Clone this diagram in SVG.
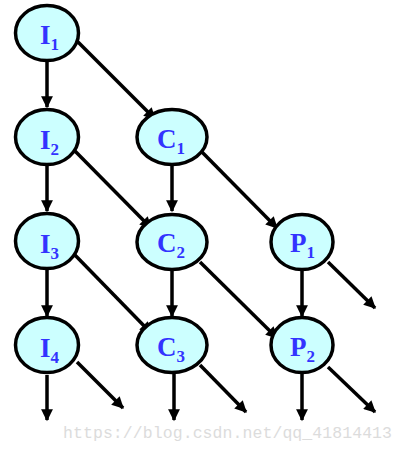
<svg xmlns="http://www.w3.org/2000/svg" width="404" height="451" viewBox="0 0 404 451">
<style>
.n ellipse{fill:#ccffff;stroke:#000;stroke-width:3.5}
.n text{font-family:"Liberation Serif",serif;font-weight:bold;fill:#3333ff;font-size:27px}
.n tspan{font-size:17px}
.c line{stroke:#000;stroke-width:3.5}
.wm{font-family:"Liberation Mono",monospace;font-size:16.5px;fill:#dcdcdc}
</style>
<defs>
<marker id="ah" viewBox="0 0 10 10" refX="9" refY="5" markerWidth="4" markerHeight="3.4" orient="auto" markerUnits="strokeWidth">
<path d="M0,0 L10,5 L0,10 Z" fill="#000"/>
</marker>
</defs>
<g class="c">
<line x1="47" y1="62" x2="47" y2="107" marker-end="url(#ah)"/>
<line x1="47" y1="166" x2="47" y2="211" marker-end="url(#ah)"/>
<line x1="47" y1="270" x2="47" y2="316" marker-end="url(#ah)"/>
<line x1="47" y1="375" x2="47" y2="420" marker-end="url(#ah)"/>
<line x1="172" y1="166" x2="172" y2="211" marker-end="url(#ah)"/>
<line x1="172" y1="271" x2="172" y2="316" marker-end="url(#ah)"/>
<line x1="174" y1="374" x2="174" y2="420" marker-end="url(#ah)"/>
<line x1="302" y1="271" x2="302" y2="316" marker-end="url(#ah)"/>
<line x1="302" y1="374" x2="302" y2="420" marker-end="url(#ah)"/>
<line x1="77" y1="41" x2="155" y2="119" marker-end="url(#ah)"/>
<line x1="72" y1="148" x2="151" y2="228" marker-end="url(#ah)"/>
<line x1="72" y1="252" x2="151" y2="333" marker-end="url(#ah)"/>
<line x1="77" y1="362" x2="123" y2="408" marker-end="url(#ah)"/>
<line x1="200" y1="150" x2="277" y2="228" marker-end="url(#ah)"/>
<line x1="200" y1="262" x2="277" y2="338" marker-end="url(#ah)"/>
<line x1="200" y1="365" x2="246" y2="412" marker-end="url(#ah)"/>
<line x1="328" y1="262" x2="375" y2="308" marker-end="url(#ah)"/>
<line x1="328" y1="367" x2="375" y2="412" marker-end="url(#ah)"/>
</g>
<g id="I1" class="n"><ellipse cx="47" cy="33" rx="31.5" ry="27.5"/><text x="40" y="44">I<tspan dy="6">1</tspan></text></g>
<g id="I2" class="n"><ellipse cx="47" cy="137" rx="31.5" ry="27.5"/><text x="40" y="149">I<tspan dy="6">2</tspan></text></g>
<g id="I3" class="n"><ellipse cx="47" cy="241" rx="31.5" ry="27.5"/><text x="40" y="253">I<tspan dy="6">3</tspan></text></g>
<g id="I4" class="n"><ellipse cx="47" cy="345" rx="31.5" ry="27.5"/><text x="40" y="357">I<tspan dy="6">4</tspan></text></g>
<g id="C1" class="n"><ellipse cx="172" cy="137" rx="35" ry="27.5"/><text x="157" y="148">C<tspan dy="6">1</tspan></text></g>
<g id="C2" class="n"><ellipse cx="172" cy="242" rx="35" ry="27.5"/><text x="157" y="252">C<tspan dy="6">2</tspan></text></g>
<g id="C3" class="n"><ellipse cx="172" cy="345" rx="35" ry="27.5"/><text x="157" y="356">C<tspan dy="6">3</tspan></text></g>
<g id="P1" class="n"><ellipse cx="302" cy="242" rx="31" ry="27.5"/><text x="290" y="252">P<tspan dy="6">1</tspan></text></g>
<g id="P2" class="n"><ellipse cx="302" cy="345" rx="31" ry="27.5"/><text x="290" y="356">P<tspan dy="6">2</tspan></text></g>
<text class="wm" x="63" y="438" textLength="329">https://blog.csdn.net/qq_41814413</text>
</svg>
